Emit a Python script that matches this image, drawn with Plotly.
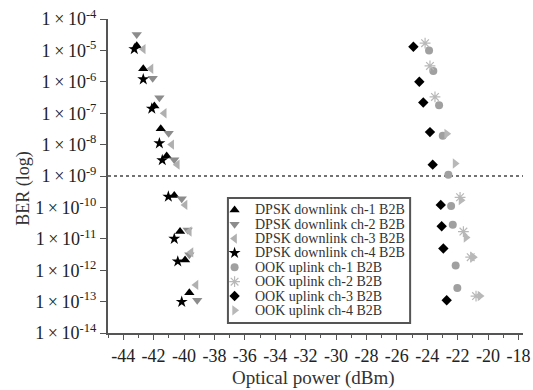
import plotly.graph_objects as go

# ---- data (optical power in dBm, BER) ----
dpsk1_x = [-43.11, -42.68, -41.95, -41.53, -41.14, -40.64, -40.26, -39.93, -39.65]
dpsk1_y = [1.4e-5, 2.6e-6, 1.7e-7, 3.2e-8, 4.3e-9, 2.4e-10, 1.7e-11, 2.1e-12, 1.9e-13]
dpsk2_x = [-43.11, -42.06, -41.62, -41.01, -40.64, -40.15, -39.76, -39.65, -39.13]
dpsk2_y = [3.2e-5, 1.3e-6, 3.1e-7, 2.3e-8, 3.3e-9, 1.9e-10, 1.9e-11, 3.1e-12, 1.1e-13]
dpsk3_x = [-42.68, -42.17, -41.30, -40.81, -40.44, -39.93, -39.65, -39.54, -39.21]
dpsk3_y = [1.1e-5, 2.6e-6, 1.0e-7, 1.0e-8, 2.3e-9, 1.2e-10, 1.7e-11, 3.7e-12, 3.4e-13]
dpsk4_x = [-43.27, -42.68, -42.12, -41.62, -41.43, -41.03, -40.64, -40.41, -40.15]
dpsk4_y = [1.1e-5, 1.2e-6, 1.4e-7, 1.1e-8, 3.2e-9, 2.2e-10, 1.0e-11, 1.9e-12, 9.8e-14]

ook1_x = [-23.88, -23.60, -23.22, -22.98, -22.61, -22.43, -22.32, -22.13, -22.02]
ook1_y = [1.0e-5, 2.2e-6, 1.8e-7, 1.9e-8, 1.1e-9, 1.1e-10, 2.8e-11, 1.4e-12, 2.7e-13]
ook2_x = [-24.14, -23.82, -23.49, -21.84, -21.62, -21.14, -20.79]
ook2_y = [1.7e-5, 3.2e-6, 3.3e-7, 2.1e-10, 1.7e-11, 2.6e-12, 1.5e-13]
ook3_x = [-24.91, -24.52, -24.26, -23.82, -23.64, -23.11, -23.05, -22.94, -22.72]
ook3_y = [1.3e-5, 1.0e-6, 2.2e-7, 2.5e-8, 2.3e-9, 1.2e-10, 2.5e-11, 4.9e-12, 1.1e-13]
ook4_x = [-22.72, -22.17, -21.78, -21.45, -20.97, -20.53]
ook4_y = [2.2e-8, 2.5e-9, 1.7e-10, 1.1e-11, 2.6e-12, 1.5e-13]

names = ["DPSK downlink ch-1 B2B", "DPSK downlink ch-2 B2B", "DPSK downlink ch-3 B2B",
         "DPSK downlink ch-4 B2B", "OOK uplink ch-1 B2B", "OOK uplink ch-2 B2B",
         "OOK uplink ch-3 B2B", "OOK uplink ch-4 B2B"]

x_ticks = list(range(-44, -17, 2))
x_ticktext = [str(v) for v in x_ticks]
y_exps = list(range(-14, -3))
threshold = 1e-9

series = [
    (dpsk1_x, dpsk1_y, "triangle-up", "#000000", 9),
    (dpsk2_x, dpsk2_y, "triangle-down", "#8c8c8c", 9),
    (dpsk3_x, dpsk3_y, "triangle-left", "#b0b0b0", 9),
    (dpsk4_x, dpsk4_y, "star", "#000000", 9),
    (ook1_x, ook1_y, "circle", "#a0a0a0", 8),
    (ook2_x, ook2_y, "asterisk-open", "#b8b8b8", 9),
    (ook3_x, ook3_y, "diamond", "#000000", 8),
    (ook4_x, ook4_y, "triangle-right", "#b8b8b8", 9),
]

font_family = "Liberation Serif, Times New Roman, serif"

# legend geometry (paper fractions)
LEG_X0, LEG_X1, LEG_Y0, LEG_Y1 = 0.289, 0.728, 0.032, 0.430
LEG_MARK_X, LEG_TEXT_X = 0.305, 0.349
LEG_ROW0, LEG_STEP = 0.392, 0.0457

fig = go.Figure()


def make_marker(sym, col, sz):
    m = dict(symbol=sym, color=col, size=sz)
    if sym.endswith("-open"):
        m["line"] = dict(color=col, width=1.2)
    else:
        m["line"] = dict(width=0)
    return m


for (xs, ys, sym, col, sz), nm in zip(series, names):
    fig.add_trace(go.Scatter(x=xs, y=ys, mode="markers", name=nm,
                             marker=make_marker(sym, col, sz), showlegend=False))

# hand-built legend (compact rows as in the reference)
fig.add_shape(type="rect", xref="paper", yref="paper",
              x0=LEG_X0, x1=LEG_X1, y0=LEG_Y0, y1=LEG_Y1,
              line=dict(color="#555", width=2), fillcolor="white", layer="below")
for i, ((xs, ys, sym, col, sz), nm) in enumerate(zip(series, names)):
    yy = LEG_ROW0 - i * LEG_STEP
    fig.add_trace(go.Scatter(x=[LEG_MARK_X], y=[yy], xaxis="x2", yaxis="y2",
                             mode="markers", marker=make_marker(sym, col, sz),
                             showlegend=False, hoverinfo="skip"))
    fig.add_annotation(text=nm, xref="paper", yref="paper", x=LEG_TEXT_X, y=yy,
                       xanchor="left", yanchor="middle", showarrow=False,
                       font=dict(size=14, family=font_family, color="#333"))

fig.add_shape(type="line", xref="paper", yref="y", x0=0, x1=1,
              y0=threshold, y1=threshold,
              line=dict(color="#444", width=1.3, dash="dot"), layer="below")

fig.update_layout(
    width=533, height=390,
    margin=dict(l=108, r=10, t=19, b=57),
    paper_bgcolor="white", plot_bgcolor="white",
    font=dict(family=font_family, color="#222", size=16),
    showlegend=False,
    xaxis=dict(range=[-45, -17.7], showgrid=False, zeroline=False, automargin=False,
               showline=True, linecolor="#555", linewidth=2, ticklabeloverflow="allow",
               tickmode="array", tickvals=x_ticks, ticktext=x_ticktext,
               ticks="outside", ticklen=5, tickwidth=1.3, tickcolor="#555",
               minor=dict(dtick=1, ticks="outside", ticklen=3, tickwidth=1.3, tickcolor="#555"),
               tickfont=dict(size=18, family=font_family, color="#222")),
    yaxis=dict(type="log", range=[-14, -4], showgrid=False, zeroline=False, automargin=False,
               showline=True, linecolor="#555", linewidth=2, ticklabeloverflow="allow",
               tickmode="array", tickvals=[10.0 ** e for e in y_exps],
               ticktext=["1\u2009\u00d7\u200910<sup>%d</sup>" % e for e in y_exps],
               ticks="outside", ticklen=6, tickwidth=1.3, tickcolor="#555",
               tickfont=dict(size=18, family=font_family, color="#222")),
    xaxis2=dict(overlaying="x", anchor="y2", range=[0, 1], visible=False, fixedrange=True),
    yaxis2=dict(overlaying="y", anchor="x2", range=[0, 1], visible=False, fixedrange=True),
)

fig.add_annotation(text="BER (log)", xref="paper", yref="paper", x=-0.203, y=0.462,
                   textangle=-90, showarrow=False, xanchor="center", yanchor="middle",
                   font=dict(size=18, family=font_family, color="#333"))
fig.add_annotation(text="Optical power (dBm)", xref="paper", yref="paper", x=0.495, y=-0.143,
                   showarrow=False, xanchor="center", yanchor="middle",
                   font=dict(size=19, family=font_family, color="#333"))

fig.write_html("out.html", config={"displayModeBar": False},
               post_script="document.body.style.margin='0';document.body.style.overflow='hidden';")
